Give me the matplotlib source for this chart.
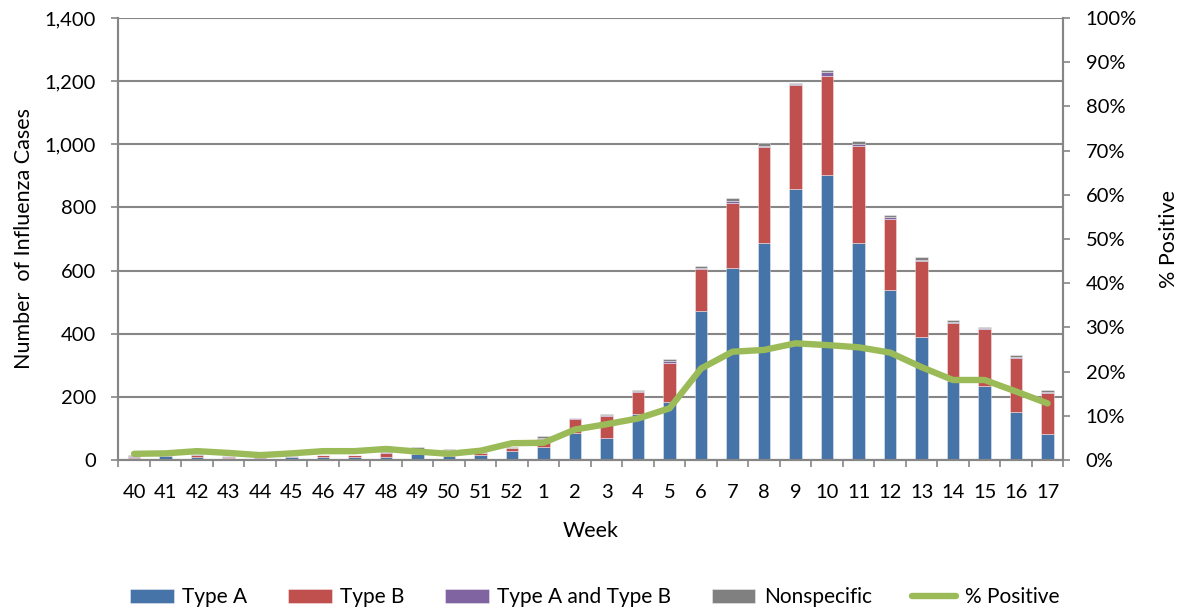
"""Weekly influenza cases by type (stacked bars) with percent positive on a second axis."""

import matplotlib
matplotlib.use("Agg")
import matplotlib.pyplot as plt  # noqa: E402
import numpy as np  # noqa: E402
from matplotlib.ticker import FuncFormatter, MultipleLocator  # noqa: E402

plt.rcParams["font.family"] = ["Lato", "DejaVu Sans"]

weeks = ["40", "41", "42", "43", "44", "45", "46", "47", "48", "49", "50", "51", "52",
         "1", "2", "3", "4", "5", "6", "7", "8", "9", "10", "11", "12", "13", "14",
         "15", "16", "17"]
type_a = [7, 13, 11, 5, 7, 10, 10, 10, 11, 19, 12, 17, 29,
          42, 87, 69, 146, 185, 472, 607, 688, 857, 904, 688, 537, 391, 250,
          233, 152, 81]
type_b = [4, 1, 5, 5, 1, 1, 5, 5, 12, 2, 4, 5, 9,
          26, 42, 71, 68, 122, 133, 208, 302, 331, 313, 308, 227, 238, 183,
          181, 170, 130]
type_ab = [3, 1, 1, 2, 0, 1, 1, 1, 3, 2, 17, 1, 1,
           3, 3, 3, 4, 6, 4, 6, 6, 4, 13, 5, 6, 6, 5,
           3, 5, 5]
nonspecific = [2, 0, 1, 1, 1, 1, 1, 1, 18, 18, 2, 2, 1,
               5, 2, 3, 4, 8, 4, 8, 7, 3, 5, 9, 6, 7, 5,
               4, 6, 6]
pct_positive = [1.4, 1.5, 2.0, 1.6, 1.1, 1.5, 2.0, 2.0, 2.5, 1.9, 1.4, 2.1, 3.8,
                3.9, 6.9, 8.1, 9.4, 11.7, 20.7, 24.5, 24.9, 26.4, 26.0, 25.5, 24.3,
                21.0, 18.1, 18.1, 15.5, 12.8]

series = [("Type A", type_a, "#4674a8"),
          ("Type B", type_b, "#c0504d"),
          ("Type A and Type B", type_ab, "#8064a2"),
          ("Nonspecific", nonspecific, "#808080")]

GRAY = "#868686"
FS = 14.5
x = np.arange(len(weeks))

fig = plt.figure(figsize=(11.82, 6.10), dpi=100)
ax = fig.add_axes([0.1001, 0.2459, 0.7995, 0.7246])
ax2 = ax.twinx()

bottom = np.zeros(len(weeks))
handles = []
for name, vals, color in series:
    vals = np.array(vals, dtype=float)
    h = ax.bar(x, vals, width=0.4, bottom=bottom, color=color,
               edgecolor=(1, 1, 1, 0.45), linewidth=0.6, label=name, zorder=2)
    handles.append(h)
    bottom += vals

line, = ax2.plot(x, pct_positive, color="#9bbb59", lw=4.6,
                 solid_joinstyle="round", solid_capstyle="round", label="% Positive")
handles.append(line)

# left axis: case counts with horizontal gridlines
ax.set_xlim(-0.5, len(weeks) - 0.5)
ax.set_ylim(0, 1400)
ax.yaxis.set_major_locator(MultipleLocator(200))
ax.yaxis.set_major_formatter(FuncFormatter(lambda v, _: f"{v:,.0f}"))
ax.grid(axis="y", color=GRAY, lw=1.5, zorder=0)
ax.set_axisbelow(True)

# category labels centered, tick marks on category boundaries
ax.set_xticks(x)
ax.set_xticklabels(weeks)
ax.set_xticks(np.arange(len(weeks) + 1) - 0.5, minor=True)
ax.tick_params(axis="x", which="major", length=0, pad=17, labelsize=FS)
ax.tick_params(axis="x", which="minor", length=5, width=1.2, color=GRAY)
ax.tick_params(axis="y", length=5, width=1.2, color=GRAY, pad=11, labelsize=FS)

ax2.set_ylim(0, 100)
ax2.yaxis.set_major_locator(MultipleLocator(10))
ax2.yaxis.set_major_formatter(FuncFormatter(lambda v, _: f"{v:.0f}%"))
ax2.tick_params(axis="y", length=5, width=1.2, color=GRAY, pad=11, labelsize=FS)

for a in (ax, ax2):
    a.spines["top"].set_visible(False)
    for side in ("left", "right", "bottom"):
        a.spines[side].set_color(GRAY)
        a.spines[side].set_linewidth(1.5)

ax.set_xlabel("Week", fontsize=15.5, labelpad=15)
ax.set_ylabel("Number  of Influenza Cases", fontsize=15.5, labelpad=8)
ax2.set_ylabel("% Positive", fontsize=15.5, labelpad=16)

fig.legend(handles=handles, labels=[h.get_label() for h in handles],
           loc="center", bbox_to_anchor=(0.503, 0.021), ncol=5, frameon=False,
           fontsize=15, handlelength=2.1, handleheight=0.63, handletextpad=0.4,
           columnspacing=1.95)

fig.savefig("out.png", dpi=100)
plt.close(fig)
